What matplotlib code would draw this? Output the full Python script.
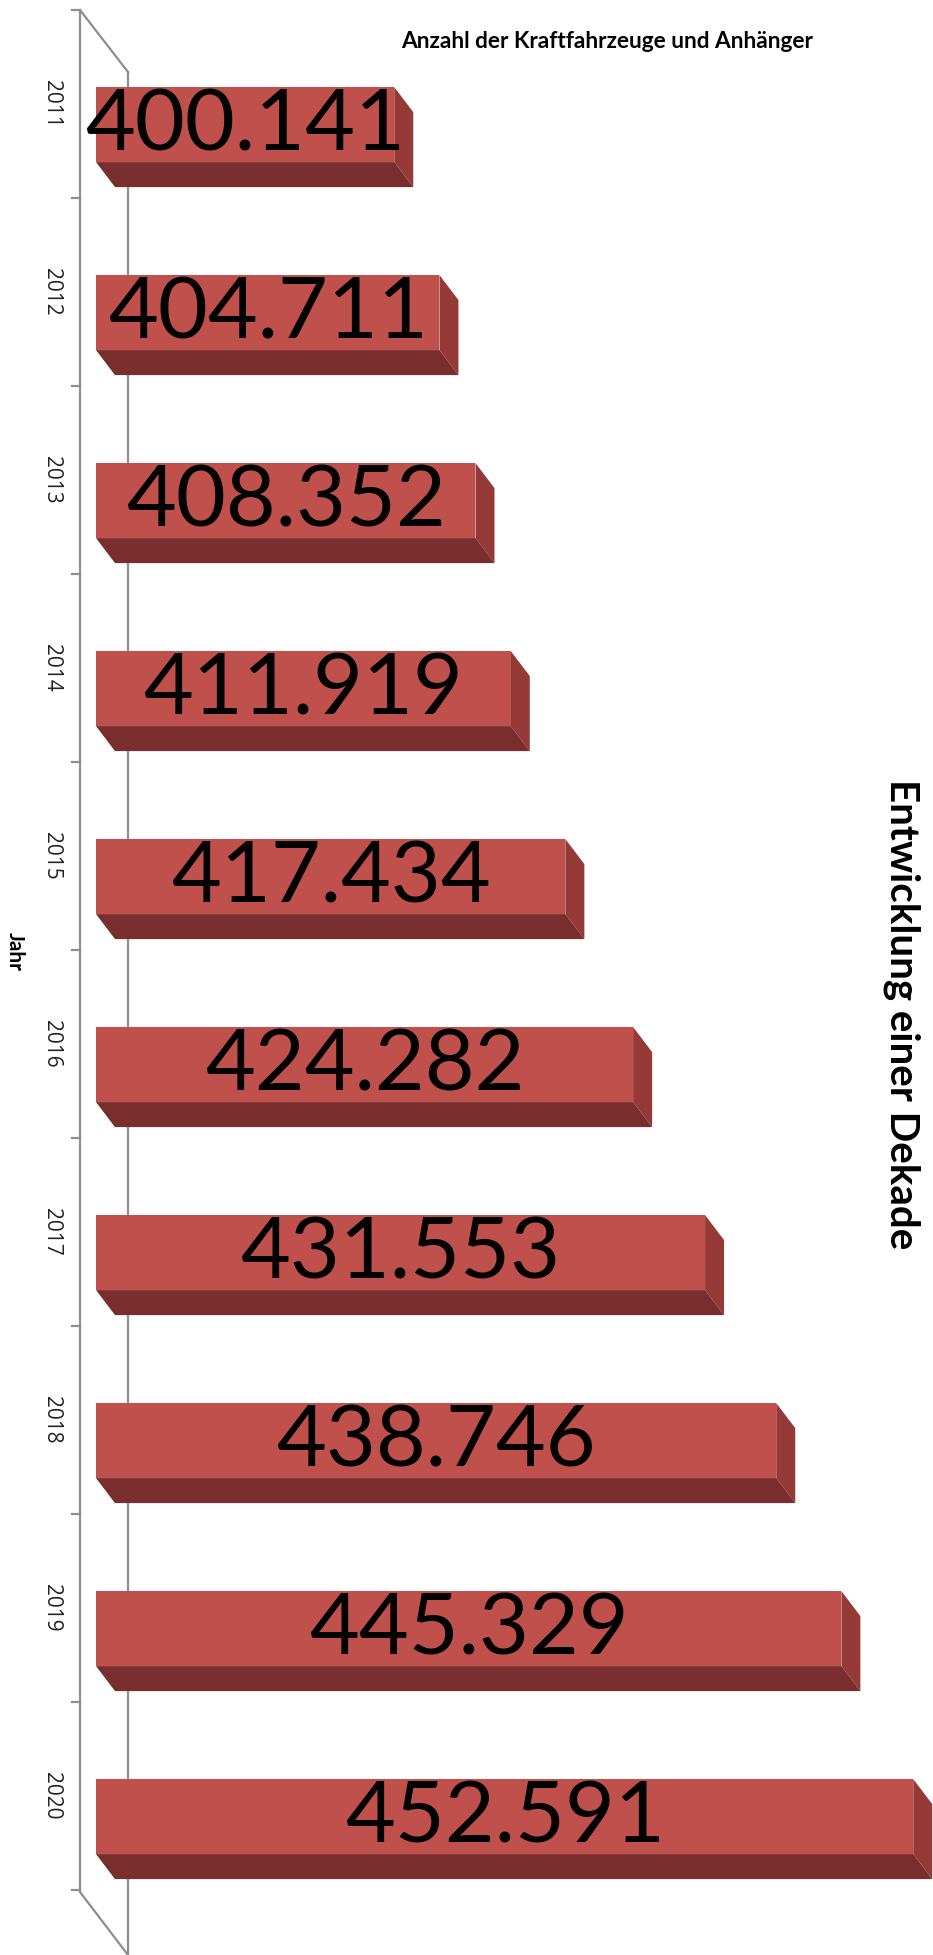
import matplotlib
matplotlib.use("Agg")
import matplotlib.pyplot as plt
from matplotlib.patches import Polygon

# ---- data ----
years = ["2011", "2012", "2013", "2014", "2015", "2016", "2017", "2018", "2019", "2020"]
values = [400141, 404711, 408352, 411919, 417434, 424282, 431553, 438746, 445329, 452591]
value_labels = ["400.141", "404.711", "408.352", "411.919", "417.434",
                "424.282", "431.553", "438.746", "445.329", "452.591"]
axis_min = 370000
title = "Anzahl der Kraftfahrzeuge und Anhänger"
side_title = "Entwicklung einer Dekade"
cat_title = "Jahr"

# ---- layout ----
W, H = 933, 1955
FRONT = "#BF504C"
SIDE = "#953A37"
BOTTOM = "#7A2D2D"
GRID = "#8E8E8E"

scale = 0.009895          # pixels per unit of value
x0_px = 96                # pixel of axis_min
slot = 188.0              # pixels per category
c0_px = 104.0             # pixel centre of first category

fig = plt.figure(figsize=(W / 100, H / 100), dpi=100)
ax = fig.add_axes([0, 0, 1, 1])
ax.axis("off")
left = axis_min - x0_px / scale
right = axis_min + (W - x0_px) / scale
ax.set_xlim(left, right)
ax.set_ylim((H - c0_px) / slot, -c0_px / slot)


def xd(p):
    return left + p / scale


def yd(p):
    return (p - c0_px) / slot


# axis / wall lines
lw = 1.6
ax.plot([xd(80), xd(80)], [yd(10), yd(1892)], color=GRID, lw=lw, zorder=1, solid_capstyle="butt")
ax.plot([xd(128), xd(128)], [yd(72), yd(1960)], color=GRID, lw=lw, zorder=1, solid_capstyle="butt")
ax.plot([xd(80), xd(128)], [yd(10), yd(72)], color=GRID, lw=lw, zorder=1)
ax.plot([xd(80), xd(128)], [yd(1892), yd(1955)], color=GRID, lw=lw, zorder=1)
for k in range(len(years) + 1):
    yy = yd(10 + slot * k)
    ax.plot([xd(72), xd(80)], [yy, yy], color=GRID, lw=lw, zorder=1)

# 3D bars
top_off = -0.090
bot_off = 0.309
dx = 19 / scale
dy = 25 / slot
for i, v in enumerate(values):
    t = i + top_off
    b = i + bot_off
    ax.barh(i + (top_off + bot_off) / 2, v - axis_min, left=axis_min,
            height=bot_off - top_off, color=FRONT, zorder=3, linewidth=0)
    side = Polygon([(v, t), (v + dx, t + dy), (v + dx, b + dy), (v, b)],
                   closed=True, facecolor=SIDE, edgecolor="none", zorder=2)
    bottom = Polygon([(axis_min, b), (v, b), (v + dx, b + dy), (axis_min + dx, b + dy)],
                     closed=True, facecolor=BOTTOM, edgecolor="none", zorder=2)
    ax.add_patch(side)
    ax.add_patch(bottom)
    ax.text((axis_min + v) / 2, i + (top_off + bot_off) / 2 + 0.01, value_labels[i],
            ha="center", va="center", fontsize=62, family="Lato", color="black", zorder=5)
    ax.text(xd(51), i, years[i], rotation=-90, ha="center", va="center",
            fontsize=15, family="Open Sans", color="#222222", zorder=5)

fig.text(15 / W, 1 - 951 / H, cat_title, rotation=-90, ha="center", va="center",
         fontsize=15, fontweight="bold", family="Lato")
fig.text(607 / W, 1 - 42 / H, title, ha="center", va="center",
         fontsize=16.3, fontweight="bold", family="Lato")
fig.text(902 / W, 1 - 1014 / H, side_title, rotation=-90, ha="center", va="center",
         fontsize=29, fontweight="bold", family="Lato")

fig.savefig("out.png", dpi=100)
